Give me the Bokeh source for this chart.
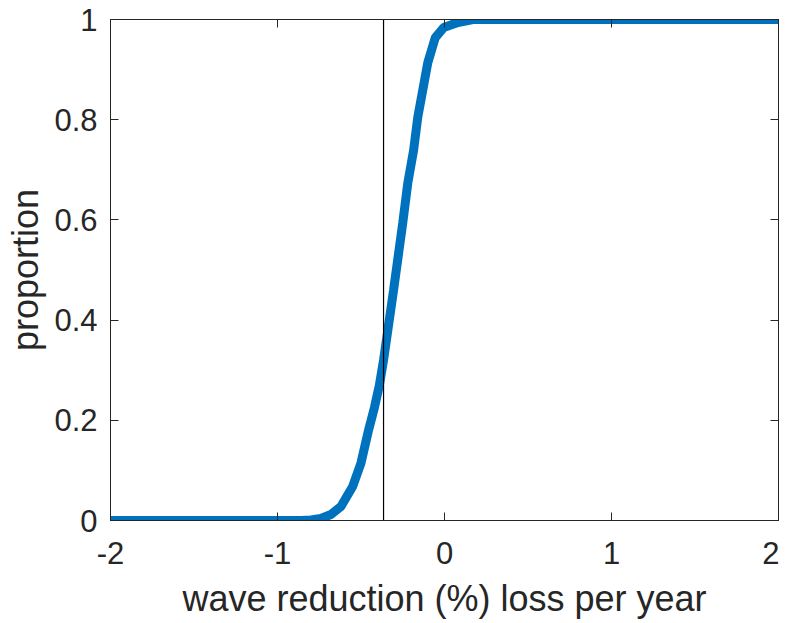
from bokeh.plotting import figure
from bokeh.models import LinearAxis, FixedTicker, CustomJSTickFormatter, Range1d
from bokeh.embed import file_html
from bokeh.resources import INLINE

# data
loss_x = [-2.0, -0.86, -0.80, -0.74, -0.68, -0.62, -0.55, -0.50, -0.455, -0.42,
          -0.39, -0.365, -0.305, -0.25, -0.22, -0.185, -0.16, -0.10, -0.055, -0.005,
          0.08, 0.17, 2.0]
proportion_y = [0.0, 0.0, 0.001, 0.004, 0.012, 0.028, 0.068, 0.115, 0.18, 0.225,
                0.27, 0.32, 0.46, 0.594, 0.673, 0.739, 0.805, 0.914, 0.964, 0.984,
                0.994, 1.0, 1.0]
marker_x = -0.365
x_ticks = [-2, -1, 0, 1, 2]
x_tick_labels = {-2: "-2", -1: "-1", 0: "0", 1: "1", 2: "2"}
y_ticks = [0, 0.2, 0.4, 0.6, 0.8, 1]
y_tick_labels = {0: "0", 0.2: "0.2", 0.4: "0.4", 0.6: "0.6", 0.8: "0.8", 1: "1"}

FONT = "Liberation Sans"
AX = "#262626"

p = figure(width=779, height=621, output_backend="svg", toolbar_location=None,
           x_range=Range1d(-2, 2), y_range=Range1d(0, 1),
           x_axis_label="wave reduction (%) loss per year", y_axis_label="proportion",
           min_border_left=110, min_border_right=1, min_border_top=19, min_border_bottom=10)
p.grid.visible = False
p.outline_line_color = AX
p.outline_line_width = 1
p.background_fill_color = "white"
p.border_fill_color = "white"

p.line(loss_x, proportion_y, line_color="#0072BD", line_width=9)
p.segment(x0=[marker_x], y0=[0], x1=[marker_x], y1=[1], line_color="black", line_width=1.2)

for ax in p.xaxis:
    ax.ticker = FixedTicker(ticks=x_ticks)
    ax.major_label_overrides = x_tick_labels
    ax.major_label_standoff = 21
    ax.axis_label_standoff = 11
for ax in p.yaxis:
    ax.ticker = FixedTicker(ticks=y_ticks)
    ax.major_label_overrides = y_tick_labels
    ax.major_label_standoff = 13
    ax.axis_label_standoff = 5

for ax in list(p.xaxis) + list(p.yaxis):
    ax.axis_line_color = AX
    ax.major_tick_in = 8
    ax.major_tick_out = 0
    ax.major_tick_line_color = AX
    ax.minor_tick_line_color = None
    ax.major_label_text_font = FONT
    ax.major_label_text_font_size = "31px"
    ax.major_label_text_color = AX
    ax.axis_label_text_font = FONT
    ax.axis_label_text_font_size = "36px"
    ax.axis_label_text_font_style = "normal"
    ax.axis_label_text_color = AX

blank = CustomJSTickFormatter(code="return ''")
top = LinearAxis(ticker=FixedTicker(ticks=x_ticks), formatter=blank,
                 major_tick_in=8, major_tick_out=0, minor_tick_line_color=None,
                 axis_line_color=AX, major_tick_line_color=AX, major_label_standoff=0,
                 major_label_text_font_size="0px")
right = LinearAxis(ticker=FixedTicker(ticks=y_ticks), formatter=blank,
                   major_tick_in=8, major_tick_out=0, minor_tick_line_color=None,
                   axis_line_color=AX, major_tick_line_color=AX, major_label_standoff=0,
                   major_label_text_font_size="0px")
p.add_layout(top, "above")
p.add_layout(right, "right")

open("out.html", "w").write(file_html(p, INLINE))
